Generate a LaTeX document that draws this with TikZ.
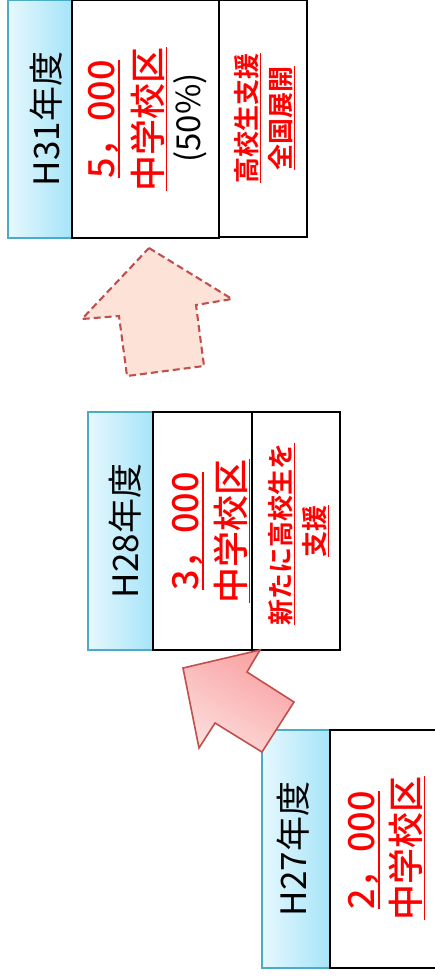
\documentclass[tikz,border=0pt]{standalone}
\usepackage{fontspec}
\setmainfont{Noto Sans CJK JP}
\newfontfamily\jpmed{Noto Sans CJK JP Medium}
\newfontfamily\jpbold{Noto Sans CJK JP Bold}
\newcommand\redul[1]{\setbox0=\hbox{#1}\rlap{\vrule width \wd0 height -0.12em depth 0.165em}\box0}
\definecolor{yearborder}{HTML}{4BACC6}
\definecolor{yearlight}{HTML}{E6F8FE}
\definecolor{yeardark}{HTML}{A6E4F8}
\definecolor{arrowline}{HTML}{C0504D}
\definecolor{arrowpink}{HTML}{F9A0A0}
\definecolor{arrowpale}{HTML}{FDDCDC}
\definecolor{peach}{HTML}{FDE2D8}
\definecolor{redtxt}{HTML}{FF0000}
\begin{document}
\begin{tikzpicture}[x=1pt,y=-1pt,
  yearbox/.style={draw=yearborder, line width=1.6pt, left color=yearlight, right color=yeardark, inner sep=0pt},
  whitebox/.style={draw=black, line width=1.6pt, fill=white, inner sep=0pt},
  yeartxt/.style={rotate=90, inner sep=0pt, font=\fontsize{35}{40}\selectfont},
  bigred/.style={rotate=90, inner sep=0pt, text=redtxt, font=\jpmed\fontsize{36}{40}\selectfont},
  pcttxt/.style={rotate=90, inner sep=0pt, font=\fontsize{33}{38}\selectfont},
  smallred/.style={rotate=90, inner sep=0pt, text=redtxt, font=\jpbold\fontsize{26}{30}\selectfont},
  solidarrow/.style={draw=arrowline, line width=1.6pt, line join=miter, shading=axis, top color=arrowpink, bottom color=arrowpale, shading angle=-30},
  dasharrow/.style={draw=arrowline, line width=2.1pt, dash pattern=on 7pt off 4pt, fill=peach}
]
\useasboundingbox (0,0) rectangle (434,980);

% H31
\node[yearbox, minimum width=64pt, minimum height=238pt] (y31) at (40,119) {};
\node[whitebox, minimum width=147pt, minimum height=238pt] (w31) at (145.5,119) {};
\node[whitebox, minimum width=88pt, minimum height=237pt] (s31) at (263,118.5) {};
\node[yeartxt] (t31) at (46,119) {H31年度};
\node[bigred] (r31a) at (104,119) {\redul{5，000}};
\node[bigred] (r31b) at (149,119) {\redul{中学校区}};
\node[pcttxt] (p31) at (190,118) {(50\%)};
\node[smallred] (h31a) at (248,118) {\redul{高校生支援}};
\node[smallred] (h31b) at (282,118) {\redul{全国展開}};

% H28
\node[yearbox, minimum width=65pt, minimum height=238pt] (y28) at (120.5,531) {};
\node[whitebox, minimum width=99pt, minimum height=238pt] (w28) at (202.5,531) {};
\node[whitebox, minimum width=88pt, minimum height=238pt] (s28) at (296,531) {};
\node[yeartxt] (t28) at (125,531) {H28年度};
\node[bigred] (r28a) at (188,531) {\redul{3，000}};
\node[bigred] (r28b) at (232,531) {\redul{中学校区}};
\node[smallred] (h28a) at (282,534) {\redul{新たに高校生を}};
\node[smallred] (h28b) at (316,531) {\redul{支援}};

% H27
\node[yearbox, minimum width=68pt, minimum height=238pt] (y27) at (296,849) {};
\node[whitebox, minimum width=120pt, minimum height=238pt] (w27) at (390,849) {};
\node[yeartxt] (t27) at (293,849) {H27年度};
\node[bigred] (r27a) at (364,850) {\redul{2，000}};
\node[bigred] (r27b) at (407,848) {\redul{中学校区}};

% arrows
\path[dasharrow] (149,248) -- (232,299) -- (196,305) -- (204,366) -- (127,376) -- (119,316) -- (82,319) -- cycle;
\path[solidarrow] (183,668) -- (260,650) -- (247,672) -- (294,702) -- (262,752) -- (215,723) -- (199,748) -- cycle;
\end{tikzpicture}
\end{document}
